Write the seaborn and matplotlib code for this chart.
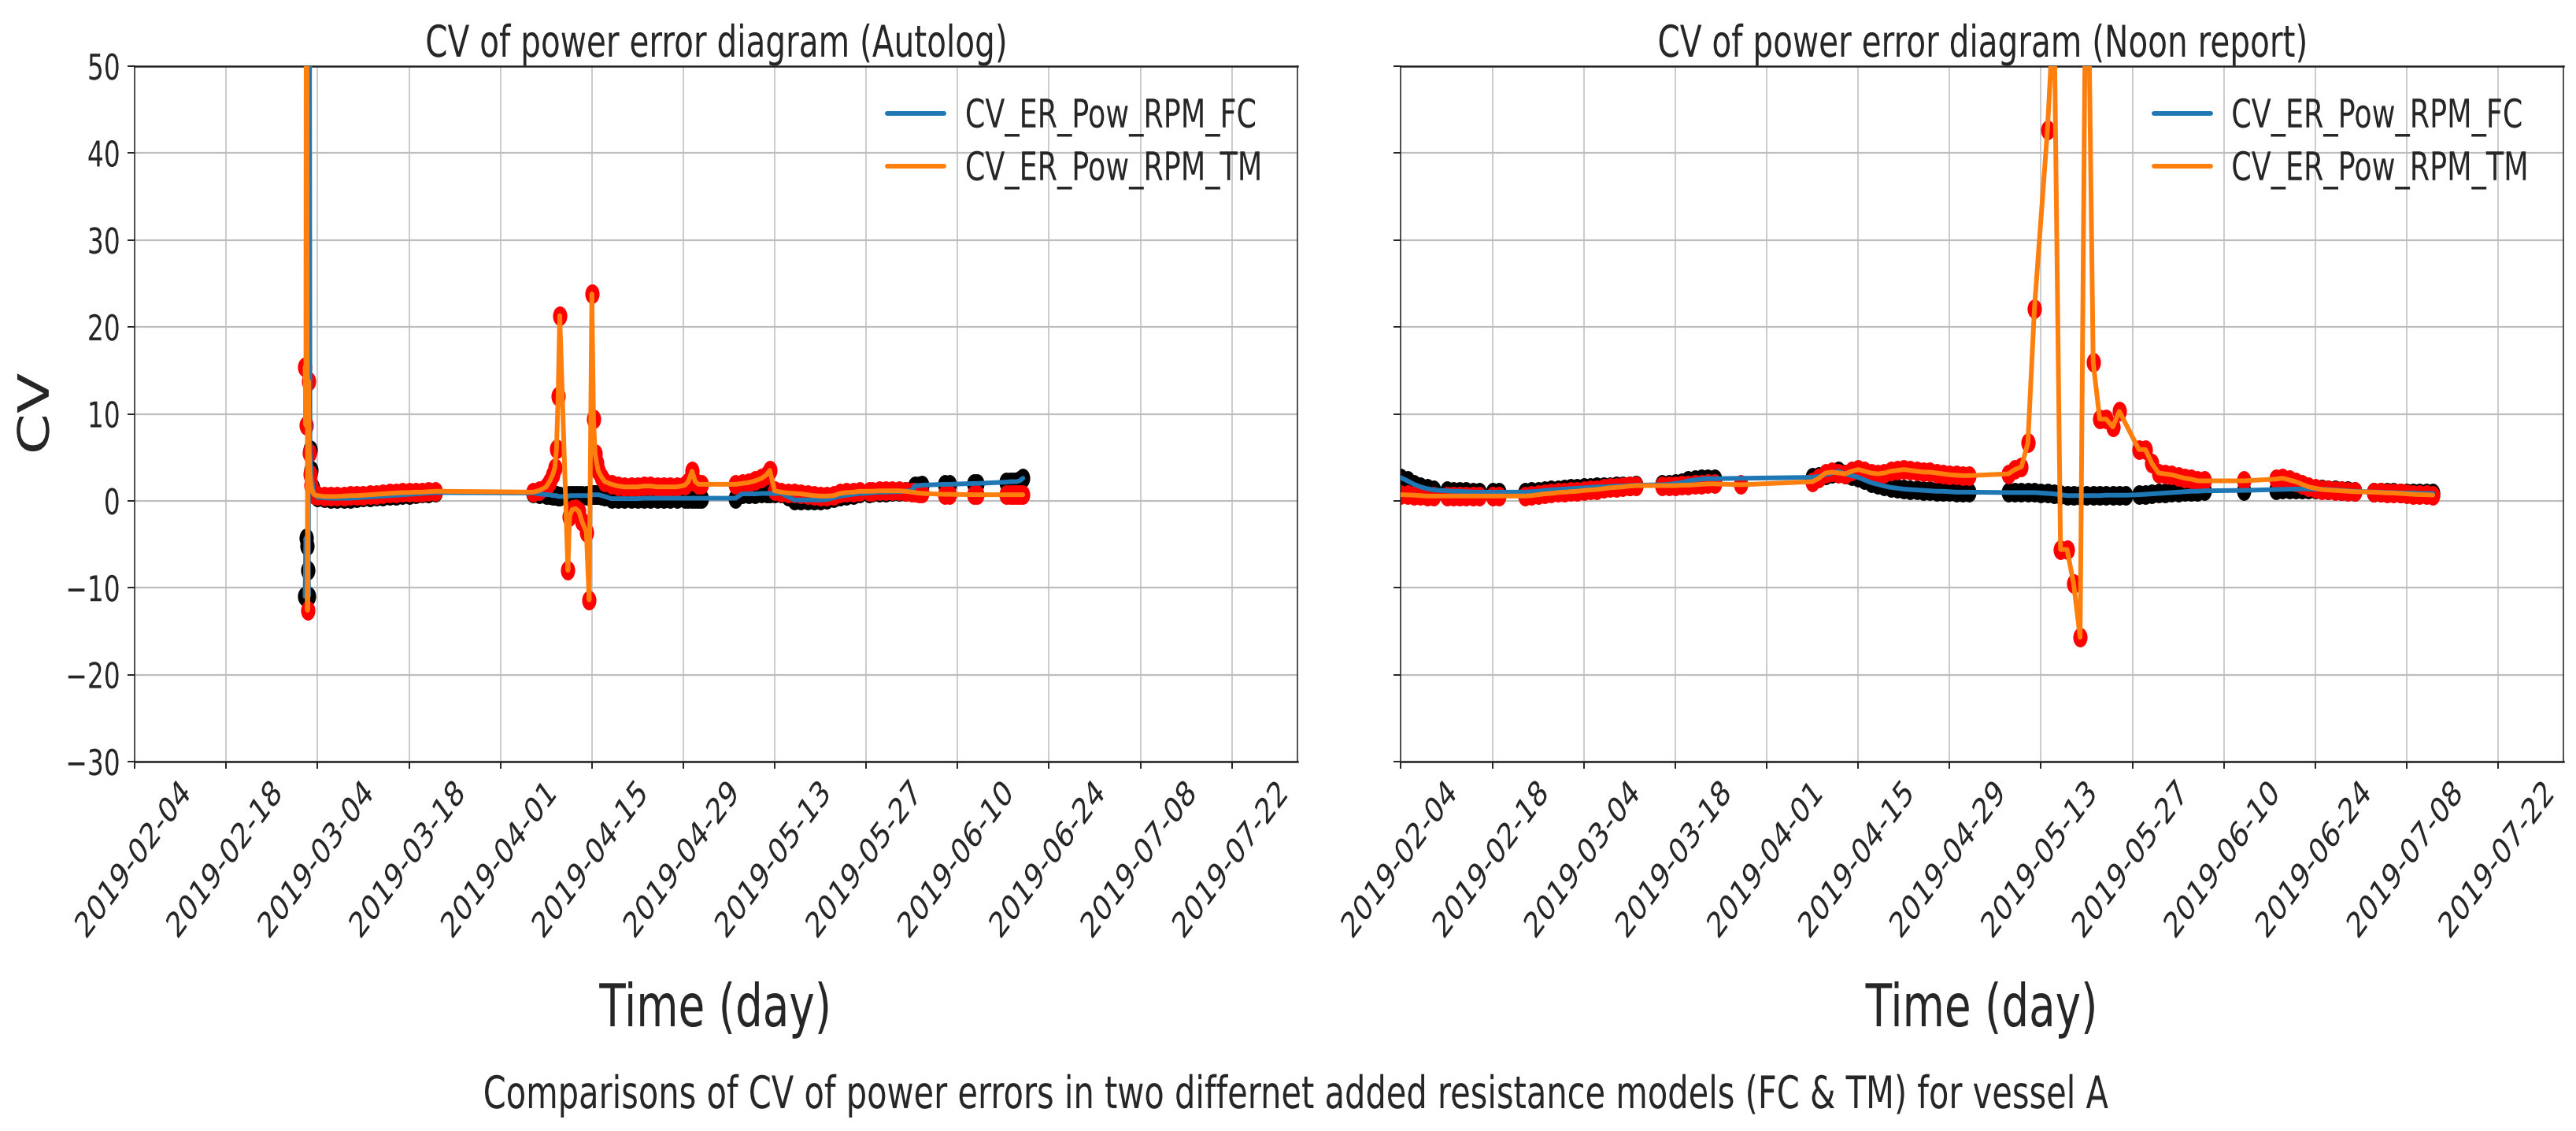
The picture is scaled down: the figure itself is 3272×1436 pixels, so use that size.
import numpy as np
import pandas as pd
import matplotlib
matplotlib.use("Agg")
import matplotlib.pyplot as plt
import matplotlib.text as mtext
from matplotlib.path import Path
from matplotlib.markers import MarkerStyle
from matplotlib.patheffects import AbstractPathEffect
from matplotlib.transforms import Affine2D, Bbox
import seaborn as sns

nan = np.nan
YEAR = "2019-"

# ---------------- data ----------------
left_time = [
    "03-02 02:00", "03-02 05:00", "03-02 08:00", "03-02 11:00", "03-02 14:00", "03-02 17:00", "03-02 20:00",
    "03-03 00:00", "03-03 06:00", "03-03 12:00",
    "03-04 00:00", "03-05 00:00", "03-06 00:00", "03-07 00:00", "03-08 00:00", "03-09 00:00", "03-10 00:00",
    "03-11 00:00", "03-12 00:00", "03-13 00:00", "03-14 00:00", "03-15 00:00", "03-16 00:00", "03-17 00:00",
    "03-18 00:00", "03-19 00:00", "03-20 00:00", "03-21 00:00", "03-22 00:00",
    "04-06 00:00", "04-07 00:00", "04-08 00:00", "04-08 12:00", "04-09 00:00", "04-09 08:00", "04-09 14:00",
    "04-09 20:00", "04-10 02:00", "04-11 08:00", "04-11 14:00", "04-12 00:00", "04-12 12:00", "04-13 00:00",
    "04-13 12:00", "04-14 04:00", "04-14 14:00", "04-15 00:00", "04-15 06:00", "04-15 12:00", "04-15 18:00",
    "04-16 00:00", "04-16 12:00",
    "04-17 00:00", "04-18 00:00", "04-19 00:00", "04-20 00:00", "04-21 00:00", "04-22 00:00", "04-23 00:00",
    "04-24 00:00", "04-25 00:00", "04-26 00:00", "04-27 00:00", "04-28 00:00",
    "04-29 06:00", "04-29 18:00", "04-30 08:00", "04-30 20:00", "05-01 08:00", "05-01 18:00",
    "05-07 00:00", "05-08 00:00", "05-09 00:00", "05-10 00:00", "05-11 00:00", "05-11 18:00", "05-12 06:00",
    "05-13 00:00", "05-14 00:00", "05-15 00:00", "05-16 00:00", "05-17 00:00", "05-18 00:00", "05-19 00:00",
    "05-20 00:00", "05-21 00:00", "05-22 00:00", "05-23 00:00", "05-24 00:00", "05-25 00:00", "05-26 00:00",
    "05-27 12:00", "05-28 00:00", "05-29 00:00", "05-30 00:00", "05-31 00:00", "06-01 00:00", "06-02 00:00",
    "06-03 00:00", "06-03 12:00", "06-04 00:00", "06-04 12:00",
    "06-08 00:00", "06-08 18:00", "06-12 12:00", "06-13 00:00",
    "06-17 12:00", "06-18 00:00", "06-18 12:00", "06-19 00:00", "06-19 12:00", "06-20 00:00",
]
left_fc = [
    -11.0, -4.3, -5.2, -8.0, -11.0, 90.0, 5.9, 3.5, 1.5, 0.8,
    0.4, 0.35, 0.3, 0.3, 0.3, 0.3, 0.35, 0.4, 0.45, 0.5, 0.55, 0.6, 0.65, 0.7, 0.75, 0.8, 0.85, 0.9, 0.95,
    0.9, 0.8, 0.7, 0.7, 0.6, 0.6, 0.6, 0.5, 0.5, 0.5, 0.6, 0.6, 0.6, 0.6, 0.6, 0.6, 0.6, 0.7, 0.7, 0.7, 0.7,
    0.7, 0.6,
    0.5, 0.25, 0.25, 0.25, 0.25, 0.25, 0.3, 0.3, 0.3, 0.3, 0.3, 0.3,
    0.3, 0.3, 0.3, 0.3, 0.3, 0.3,
    0.3, 0.8, 0.8, 0.8, 0.85, 0.85, 0.85, 0.85, 0.85, 0.5, 0.1, 0.1, 0.1, 0.1, 0.1, 0.15, 0.35, 0.55, 0.65,
    0.75, 0.85,
    0.9, 0.95, 1.0, 1.0, 1.05, 1.05, 1.1, 1.2, 1.75, 1.75, 1.8,
    1.9, 1.9, 2.0, 2.0,
    2.15, 2.2, 2.2, 2.2, 2.3, 2.6,
]
left_tm = [
    15.4, 8.7, 120.0, -12.6, 13.8, 5.5, 3.1, 1.8, 1.0, 0.7,
    0.6, 0.5, 0.5, 0.5, 0.55, 0.6, 0.6, 0.65, 0.7, 0.75, 0.8, 0.85, 0.9, 0.95, 0.95, 1.0, 1.0, 1.05, 1.1,
    1.0, 1.2, 1.6, 2.2, 3.0, 3.8, 6.0, 12.0, 21.3, -8.0, -1.8, -1.0, -0.9, -1.2, -2.4, -3.6, -11.4, 23.8, 9.4,
    5.4, 4.3, 3.4, 2.7,
    2.2, 1.9, 1.7, 1.6, 1.6, 1.6, 1.7, 1.7, 1.6, 1.6, 1.6, 1.6,
    1.8, 2.2, 3.4, 2.2, 1.9, 1.9,
    1.9, 2.0, 2.1, 2.3, 2.6, 3.0, 3.5, 1.15, 1.0, 0.9, 0.85, 0.8, 0.7, 0.6, 0.55, 0.55, 0.6, 0.85, 0.95,
    1.0, 1.1,
    1.1, 1.1, 1.15, 1.15, 1.15, 1.15, 1.1, 1.0, 0.95, 0.9, 0.85,
    0.75, 0.75, 0.7, 0.7,
    0.7, 0.7, 0.7, 0.7, 0.7, 0.7,
]

right_time = [
    "02-04", "02-05", "02-06", "02-07", "02-08", "02-09",
    "02-11", "02-12", "02-13", "02-14", "02-15", "02-16",
    "02-18", "02-19",
    "02-23", "02-24", "02-25", "02-26", "02-27", "02-28", "03-01", "03-02", "03-03", "03-04", "03-05", "03-06",
    "03-07", "03-08", "03-09", "03-10", "03-11", "03-12",
    "03-16", "03-17", "03-18", "03-19", "03-20", "03-21", "03-22", "03-23", "03-24",
    "03-28",
    "04-08", "04-09", "04-10", "04-11", "04-12", "04-13", "04-14", "04-15", "04-16", "04-17", "04-18", "04-19",
    "04-20", "04-21", "04-22", "04-23", "04-24", "04-25", "04-26", "04-27", "04-28", "04-29", "04-30", "05-01",
    "05-02",
    "05-08", "05-09", "05-10", "05-11", "05-12", "05-13", "05-14", "05-15", "05-16", "05-17", "05-18", "05-19",
    "05-20", "05-21", "05-22", "05-23", "05-24", "05-25", "05-26",
    "05-28", "05-29", "05-30", "05-31", "06-01", "06-02", "06-03", "06-04", "06-05", "06-06", "06-07",
    "06-13",
    "06-18", "06-19", "06-20", "06-21", "06-22", "06-23", "06-24", "06-25", "06-26", "06-27", "06-28", "06-29",
    "06-30",
    "07-03", "07-04", "07-05", "07-06", "07-07", "07-08", "07-09", "07-10", "07-11", "07-12",
]
right_fc = [
    2.66, 2.3, 1.9, 1.6, 1.4, 1.25,
    1.15, 1.1, 1.1, 1.05, 1.0, 1.0,
    1.0, 1.0,
    1.0, 1.05, 1.1, 1.2, 1.25, 1.3, 1.35, 1.4, 1.45, 1.5, 1.55, 1.6, 1.6, 1.65, 1.7, 1.7, 1.75, 1.8,
    1.85, 1.9, 2.0, 2.1, 2.3, 2.4, 2.5, 2.55, 2.55,
    nan,
    2.7, 2.8, 3.0, 3.2, 3.4, 3.1, 2.9, 2.7, 2.4, 2.1, 1.9, 1.7, 1.55, 1.45, 1.35, 1.3, 1.25, 1.2, 1.15, 1.1,
    1.1, 1.05, 1.0, 1.0, 1.0,
    0.95, 0.95, 0.95, 0.95, 0.95, 0.9, 0.85, 0.8, 0.7, 0.6, 0.6, 0.6, 0.6, 0.6, 0.6, 0.65, 0.65, 0.65, 0.65,
    0.7, 0.75, 0.8, 0.85, 0.9, 0.95, 1.0, 1.05, 1.1, 1.1, 1.15,
    1.2,
    1.3, 1.32, 1.34, 1.35, 1.36, 1.36, 1.35, 1.33, 1.3, 1.25, 1.2, 1.15, 1.1,
    1.0, 1.0, 0.95, 0.95, 0.9, 0.9, 0.9, 0.85, 0.85, 0.85,
]
right_tm = [
    0.7, 0.68, 0.65, 0.6, 0.55, 0.55,
    0.55, 0.55, 0.55, 0.55, 0.55, 0.55,
    0.55, 0.55,
    0.55, 0.6, 0.7, 0.8, 0.85, 0.95, 1.0, 1.05, 1.1, 1.2, 1.25, 1.3, 1.4, 1.5, 1.55, 1.6, 1.7, 1.75,
    1.75, 1.75, 1.75, 1.8, 1.8, 1.85, 1.9, 1.95, 1.95,
    1.85,
    2.2, 2.6, 3.2, 3.3, 3.2, 3.1, 3.4, 3.6, 3.4, 3.2, 3.1, 3.2, 3.4, 3.5, 3.6, 3.5, 3.4, 3.3, 3.3, 3.2, 3.1,
    3.0, 2.95, 2.9, 2.9,
    3.1, 3.6, 3.9, 6.65, 22.1, nan, 42.7, 57.0, -5.6, -5.6, -9.5, -15.7, 75.0, 15.9, 9.4, 9.4, 8.5, 10.3, nan,
    5.9, 5.9, 4.3, 3.2, 3.1, 3.0, 2.8, 2.6, 2.5, 2.3, 2.3,
    2.3,
    2.5, 2.6, 2.4, 2.2, 1.9, 1.6, 1.45, 1.3, 1.25, 1.2, 1.15, 1.1, 1.05,
    1.0, 0.95, 0.92, 0.9, 0.85, 0.8, 0.75, 0.72, 0.7, 0.66,
]

x_tick_labels = ["2019-02-04", "2019-02-18", "2019-03-04", "2019-03-18", "2019-04-01", "2019-04-15",
                 "2019-04-29", "2019-05-13", "2019-05-27", "2019-06-10", "2019-06-24", "2019-07-08",
                 "2019-07-22"]
y_ticks = [-30, -20, -10, 0, 10, 20, 30, 40, 50]
x_limits = ["2019-02-04", "2019-08-01"]
series_labels = ["CV_ER_Pow_RPM_FC", "CV_ER_Pow_RPM_TM"]
panel_titles = ["CV of power error diagram (Autolog)", "CV of power error diagram (Noon report)"]
fig_caption = ("Comparisons of CV of power errors in two differnet added resistance models "
               "(FC & TM) for vessel A")

assert len(left_time) == len(left_fc) == len(left_tm)
assert len(right_time) == len(right_fc) == len(right_tm)

# ---------------- style ----------------
sns.set_style("ticks")
plt.rcParams["font.family"] = ["DejaVu Sans"]
plt.rcParams["axes.edgecolor"] = "black"

SX = 0.73  # horizontal squeeze of the reference rendering


class SquishX(AbstractPathEffect):
    """Compress the drawn glyphs horizontally (screen x) around an anchor."""

    def __init__(self, sx, anchor="center"):
        super().__init__((0, 0))
        self.sx = sx
        self.anchor = anchor

    def draw_path(self, renderer, gc, tpath, affine, rgbFace=None):
        try:
            ext = tpath.transformed(affine).get_extents()
            if self.anchor == "right":
                cx = ext.x1
            elif self.anchor == "left":
                cx = ext.x0
            else:
                cx = 0.5 * (ext.x0 + ext.x1)
        except Exception:
            cx = 0.0
        t = affine + Affine2D().translate(-cx, 0).scale(self.sx, 1.0).translate(cx, 0)
        renderer.draw_path(gc, tpath, t, rgbFace)


def squish_extent(text, sx, anchor):
    """Make the reported extent of a text match its squeezed drawing."""
    orig = text.get_window_extent

    def ext(renderer=None, dpi=None):
        bb = orig(renderer, dpi)
        if anchor == "right":
            cx = bb.x1
        elif anchor == "left":
            cx = bb.x0
        else:
            cx = 0.5 * (bb.x0 + bb.x1)
        return Bbox([[cx + (bb.x0 - cx) * sx, bb.y0], [cx + (bb.x1 - cx) * sx, bb.y1]])

    text.get_window_extent = ext


circ = Path.unit_circle()
ell_marker = MarkerStyle(Path(circ.vertices * np.array([SX, 1.0]), circ.codes))

FS_TICK, FS_TITLE, FS_LEG, FS_LABEL, FS_SUP = 32.4, 40, 36, 54, 41

fig, axes = plt.subplots(1, 2, figsize=(32.72, 14.36), dpi=100, sharey=True)
fig.subplots_adjust(left=0.0523, right=0.9951, bottom=0.3266, top=0.9415, wspace=0.0893)

panels = [
    (left_time, left_fc, left_tm, -0.0829),
    (right_time, right_fc, right_tm, -0.0227),
]

xt = pd.to_datetime(x_tick_labels)
for ax, (times, fc, tm, ylab_x), title in zip(axes, panels, panel_titles):
    df = pd.DataFrame({"time": pd.to_datetime([YEAR + s for s in times]), "fc": fc, "tm": tm})
    sns.scatterplot(data=df, x="time", y="fc", color="black", marker=ell_marker, s=320,
                    linewidth=0, ax=ax, zorder=2, legend=False)
    sns.scatterplot(data=df, x="time", y="tm", color="red", marker=ell_marker, s=320,
                    linewidth=0, ax=ax, zorder=2, legend=False)
    sns.lineplot(data=df, x="time", y="fc", color="#1f77b4", linewidth=4.3, ax=ax,
                 label=series_labels[0], zorder=3)
    sns.lineplot(data=df, x="time", y="tm", color="#ff7f0e", linewidth=4.3, ax=ax,
                 label=series_labels[1], zorder=4)

    ax.set_xlim(pd.Timestamp(x_limits[0]), pd.Timestamp(x_limits[1]))
    ax.set_ylim(-30, 50)
    ax.set_yticks(y_ticks)
    ax.set_xticks(xt)
    ax.set_xticklabels(x_tick_labels, rotation=45, ha="center")
    ax.tick_params(axis="both", length=6.3, width=1.4, pad=6.3, labelsize=FS_TICK, color="#222222")
    ax.set_axisbelow(True)
    ax.yaxis.grid(True, color="#bdbdbd", linewidth=1.6)
    ax.xaxis.grid(True, color="#bdbdbd", linewidth=1.1)
    for side in ["top", "bottom"]:
        ax.spines[side].set_linewidth(1.8)
        ax.spines[side].set_color("#222222")
    for side in ["left", "right"]:
        ax.spines[side].set_linewidth(1.1)
        ax.spines[side].set_color("#222222")

    ax.set_title(title, fontsize=FS_TITLE, pad=4.5)
    ax.set_xlabel("Time (day)", fontsize=FS_LABEL)
    ax.set_ylabel("CV", fontsize=FS_LABEL)
    ax.xaxis.set_label_coords(0.5, -0.316)
    ax.yaxis.set_label_coords(ylab_x, 0.5)
    ax.yaxis.label.set_verticalalignment("center")

    ax.legend(loc="upper left", bbox_to_anchor=(0.6475, 0.955), frameon=False, fontsize=FS_LEG,
              handlelength=1.44, handletextpad=0.52, labelspacing=0.34, borderpad=0,
              borderaxespad=0)

fig.text(0.5034, 0.0202, fig_caption, ha="center", va="baseline", fontsize=FS_SUP)

# squeeze all text horizontally like the reference rendering
fig.canvas.draw()
for t in fig.findobj(mtext.Text):
    if t.get_text():
        ha = t.get_horizontalalignment()
        anchor = "right" if ha == "right" else ("left" if ha == "left" else "center")
        t.set_path_effects([SquishX(SX, anchor)])
        squish_extent(t, SX, anchor)

fig.savefig("out.png", dpi=100)
